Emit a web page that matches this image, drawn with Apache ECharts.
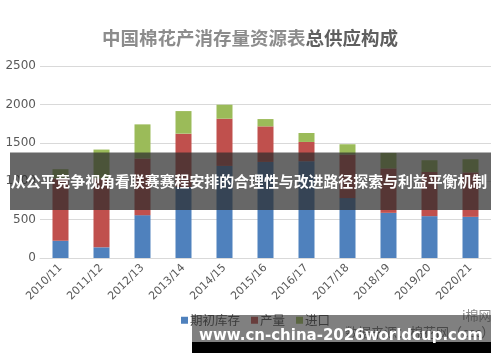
<!DOCTYPE html>
<html>
<head>
<meta charset="utf-8">
<script src="https://cdn.jsdelivr.net/npm/echarts@6/dist/echarts.min.js"></script>
<style>
html,body{margin:0;padding:0;background:#fff;}
#c{width:500px;height:362px;}
</style>
</head>
<body>
<div id="c"></div>
<script>
// ---- data (万吨) ----
var categories = ['2010/11','2011/12','2012/13','2013/14','2014/15','2015/16','2016/17','2017/18','2018/19','2019/20','2020/21'];
var beginStock = [225, 139, 558, 926, 1199, 1251, 1260, 780, 588, 545, 536];
var production = [810, 896, 738, 693, 615, 463, 251, 567, 579, 575, 579];
var imports    = [121, 377, 444, 294, 182, 95, 117, 134, 201, 153, 171];
var yTicks = [0, 500, 1000, 1500, 2000, 2500];
var seriesNames = ['期初库存', '产量', '进口'];
var titleMain = '中国棉花产消存量资源表';
var titleBold = '总供应构成';
var bannerText = '从公平竞争视角看联赛赛程安排的合理性与改进路径探索与利益平衡机制';
var urlText = 'www.cn-china-2026worldcup.com';
var sourceText = '数据来源：棉花网（ccc）';

var chart = echarts.init(document.getElementById('c'), null, {renderer: 'canvas'});
var cjk = '"Noto Sans CJK SC", "DejaVu Sans", sans-serif';
var colors = ['#4f81bd', '#c0504d', '#9bbb59'];

var option = {
  animation: false,
  backgroundColor: '#ffffff',
  title: {
    text: '{a|' + titleMain + '}{b|' + titleBold + '}',
    left: 'center',
    top: 24,
    textStyle: {
      rich: {
        a: {fontSize: 18.5, color: '#8c8c8c', fontFamily: cjk},
        b: {fontSize: 18.5, color: '#5f5f5f', fontWeight: 'bold', fontFamily: cjk}
      }
    }
  },
  legend: {
    data: seriesNames,
    left: 176,
    top: 309,
    icon: 'rect',
    itemWidth: 7,
    itemHeight: 7,
    itemGap: 11,
    textStyle: {fontSize: 12.5, color: '#4a4a4a', fontFamily: cjk, padding: [0, 0, 0, -3]}
  },
  grid: {left: 40, right: 9, top: 66, bottom: 104},
  xAxis: {
    type: 'category',
    data: categories,
    axisLine: {lineStyle: {color: '#d9d9d9'}},
    axisTick: {show: false},
    axisLabel: {rotate: 45, fontSize: 11, color: '#595959', fontFamily: 'DejaVu Sans', margin: 8}
  },
  yAxis: {
    type: 'value',
    min: yTicks[0],
    max: yTicks[yTicks.length - 1],
    interval: 500,
    axisLine: {show: false},
    axisTick: {show: false},
    splitLine: {lineStyle: {color: '#d9d9d9'}},
    axisLabel: {fontSize: 12, color: '#595959', fontFamily: 'DejaVu Sans', margin: 4,
      formatter: function (v) { return String(v); }}
  },
  series: [
    {name: seriesNames[0], type: 'bar', stack: 's', data: beginStock, barWidth: 16, itemStyle: {color: colors[0]}},
    {name: seriesNames[1], type: 'bar', stack: 's', data: production, barWidth: 16, itemStyle: {color: colors[1]}},
    {name: seriesNames[2], type: 'bar', stack: 's', data: imports, barWidth: 16, itemStyle: {color: colors[2]}}
  ],
  graphic: [
    {type: 'text', left: 345, top: 326, z: 50, style: {text: sourceText, fill: '#6f6f6f', font: '13px ' + cjk}},
    {type: 'text', left: 462, top: 309, z: 50, style: {text: 'i棉网', fill: '#8a8a8a', font: '13px ' + cjk}},
    {type: 'rect', shape: {x: 10, y: 152.5, width: 481, height: 57.5}, z: 100, style: {fill: 'rgba(45,45,45,0.72)'}},
    {type: 'text', x: 249, y: 181, z: 101, style: {text: bannerText, fill: '#ffffff', font: 'bold 14.9px ' + cjk, textAlign: 'center', textVerticalAlign: 'middle'}},
    {type: 'rect', shape: {x: 192, y: 315, width: 299, height: 27}, z: 100, style: {fill: 'rgba(50,50,50,0.62)'}},
    {type: 'rect', shape: {x: 192, y: 342, width: 299, height: 11}, z: 100, style: {fill: '#000000'}},
    {type: 'text', x: 341, y: 336, z: 101, style: {text: urlText, fill: '#ffffff', font: 'bold 15px "DejaVu Sans", sans-serif', textAlign: 'center', textVerticalAlign: 'middle'}}
  ]
};
chart.setOption(option);
</script>
</body>
</html>
